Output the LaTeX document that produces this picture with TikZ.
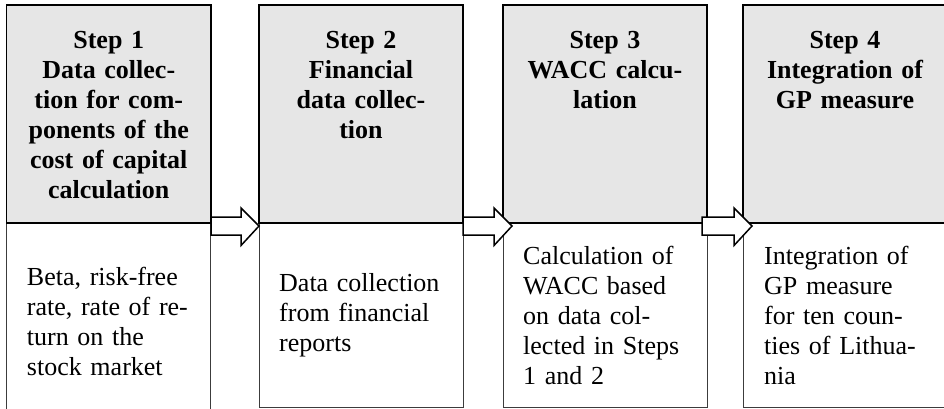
\documentclass[tikz,border=0pt]{standalone}
\usepackage{fontspec}
\setmainfont{Liberation Serif}
\usepackage{tikz}
\usetikzlibrary{calc,positioning}
\definecolor{hdgray}{HTML}{E6E6E6}
\definecolor{lngray}{HTML}{3C3C3C}
\tikzstyle{hd}=[rectangle,draw,fill=hdgray,line width=1.5pt,minimum width=204pt,minimum height=218pt,inner sep=0pt,outer sep=0pt]
\tikzstyle{bd}=[rectangle,draw=lngray,line width=0.8pt,minimum width=204pt,minimum height=184.5pt,inner sep=0pt,outer sep=0pt]
\tikzstyle{ht}=[text width=190pt,align=center,font=\bfseries\fontsize{26}{30}\selectfont,inner sep=0pt]
\tikzstyle{bt}=[text width=175pt,align=left,font=\fontsize{26}{30}\selectfont,inner sep=0pt]
\tikzstyle{blk}=[draw,fill=white,line width=1.5pt,line join=miter]
\newcommand{\blkarrow}[4]{%
  \draw[blk] let \p1=(#1.south east), \p2=(#2.south west) in
    (\x1+#3,\y1+6pt) -- (\x2+#4-18pt,\y1+6pt) -- (\x2+#4-18pt,\y1+15pt)
    -- (\x2+#4,\y1-3pt) -- (\x2+#4-18pt,\y1-22.5pt) -- (\x2+#4-18pt,\y1-12pt)
    -- (\x1+#3,\y1-12pt) -- cycle;}
\begin{document}
\begin{tikzpicture}[x=1pt,y=-1pt]
    \useasboundingbox (0,0) rectangle (944,409);
        \node[bd,minimum height=197pt] (a) at (108.75,321.5) {};
        \node[bd] (b) at (361,315.25) {};
        \node[bd] (c) at (605,315.25) {};
        \node[bd] (d) at (845,315.25) {};
        \node[hd,minimum width=204.5pt] (A) at (108.75,114) {};
        \node[hd] (B) at (361,114) {};
        \node[hd] (C) at (605,114) {};
        \node[hd] (D) at (845,114) {};
        \node[ht,below=26pt of A.north] (At) {Step 1\\Data collec-\\tion for com-\\ponents of the\\cost of capital\\calculation};
        \node[ht,below=26pt of B.north] (Bt) {Step 2\\Financial\\data collec-\\tion};
        \node[ht,below=26pt of C.north] (Ct) {Step 3\\WACC calcu-\\lation};
        \node[ht,below=26pt of D.north] (Dt) {Step 4\\Integration of\\GP measure};
        \node[bt,right=20pt of a.west] (at) {Beta, risk-free\\rate, rate of re-\\turn on the\\stock market};
        \node[bt,right=20pt of b.west] (bt) {Data collection\\from financial\\reports};
        \node[bt,right=20pt of c.west] (ct) {Calculation of\\WACC based\\on data col-\\lected in Steps\\1 and 2};
        \node[bt,right=21pt of d.west] (dt) {Integration of\\GP measure\\for ten coun-\\ties of Lithua-\\nia};
        \blkarrow{A}{B}{0pt}{0pt}
        \blkarrow{B}{C}{0pt}{9pt}
        \blkarrow{C}{D}{-5pt}{9pt}
    \end{tikzpicture}
\end{document}
